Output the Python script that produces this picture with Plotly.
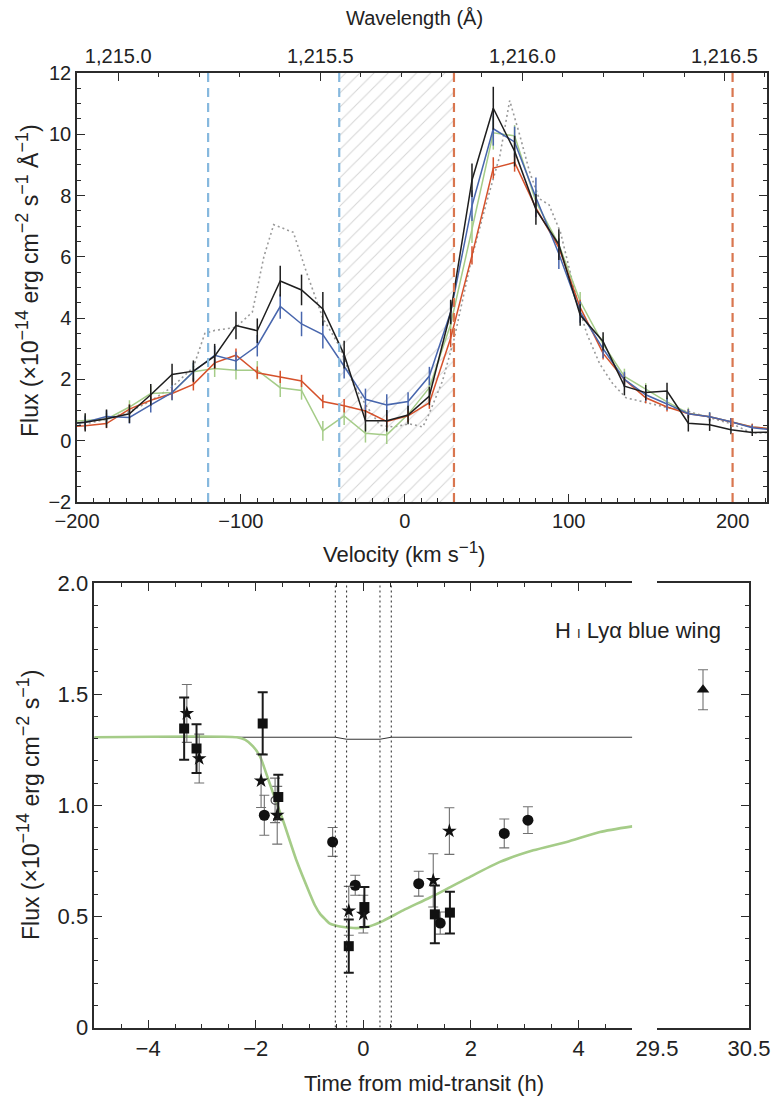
import plotly.graph_objects as go

# ---------------- Top panel data (velocity bins, km/s) ----------------
velocity = [-208, -195, -182, -168, -155, -142, -129, -116, -103, -90, -76, -63, -50, -37,
            -24, -11, 2, 15, 28, 41, 54, 67, 80, 94, 107, 121, 134, 147, 160, 173, 186, 199, 212, 225]
flux_black = [0.55, 0.6, 0.72, 0.88, 1.5, 2.16, 2.27, 2.76, 3.76, 3.59, 5.21, 4.92, 4.30, 2.81,
              0.65, 0.65, 0.84, 1.46, 4.2, 8.5, 10.85, 9.45, 7.55, 6.4, 4.1, 3.24, 1.78, 1.57, 1.62, 0.57, 0.52, 0.36, 0.27, 0.28]
err_black = [0.3, 0.3, 0.3, 0.3, 0.35, 0.35, 0.35, 0.4, 0.45, 0.4, 0.5, 0.5, 0.55, 0.45,
             0.35, 0.35, 0.3, 0.3, 0.4, 0.55, 0.7, 0.5, 0.5, 0.5, 0.35, 0.3, 0.3, 0.25, 0.27, 0.27, 0.2, 0.15, 0.12, 0.1]
flux_blue = [0.55, 0.6, 0.79, 0.76, 1.17, 1.57, 2.25, 2.79, 2.6, 3.1, 4.38, 3.81, 3.46, 2.43,
             1.35, 1.17, 1.28, 2.11, 4.2, 7.67, 10.18, 9.75, 7.94, 6.1, 4.2, 3.0, 2.0, 1.5, 1.2, 0.88, 0.78, 0.62, 0.42, 0.35]
err_blue = [0.2, 0.2, 0.2, 0.2, 0.25, 0.25, 0.3, 0.3, 0.3, 0.35, 0.4, 0.4, 0.45, 0.4,
            0.35, 0.35, 0.3, 0.3, 0.35, 0.5, 0.55, 0.5, 0.65, 0.5, 0.35, 0.3, 0.25, 0.2, 0.2, 0.15, 0.15, 0.12, 0.1, 0.1]
flux_red = [0.45, 0.49, 0.56, 1.03, 1.32, 1.54, 1.84, 2.54, 2.79, 2.22, 2.08, 1.95, 1.28, 1.14,
            0.97, 0.63, 0.81, 1.24, 3.35, 6.05, 8.9, 9.08, 7.6, 6.3, 4.35, 2.85, 2.0, 1.4, 1.1, 0.88, 0.78, 0.62, 0.45, 0.38]
err_red = [0.15, 0.15, 0.15, 0.15, 0.18, 0.2, 0.2, 0.2, 0.22, 0.2, 0.2, 0.2, 0.22, 0.22,
           0.2, 0.2, 0.2, 0.2, 0.3, 0.3, 0.35, 0.3, 0.3, 0.3, 0.25, 0.2, 0.2, 0.18, 0.15, 0.15, 0.12, 0.12, 0.1, 0.1]
flux_green = [0.62, 0.65, 0.7, 1.1, 1.54, 1.57, 2.25, 2.36, 2.3, 2.3, 1.73, 1.64, 0.32, 0.81,
              0.24, 0.19, 0.86, 1.73, 3.8, 6.9, 10.05, 9.95, 7.8, 6.4, 4.55, 3.15, 2.1, 1.68, 1.27, 0.9, 0.78, 0.62, 0.45, 0.38]
err_green = [0.2, 0.2, 0.2, 0.22, 0.25, 0.25, 0.28, 0.28, 0.3, 0.3, 0.3, 0.3, 0.32, 0.3,
             0.3, 0.3, 0.28, 0.3, 0.35, 0.45, 0.55, 0.35, 0.4, 0.35, 0.3, 0.25, 0.25, 0.2, 0.2, 0.18, 0.15, 0.12, 0.1, 0.1]

model_velocity = [-208, -195, -182, -168, -155, -142, -129, -122, -116, -103, -93, -86, -80, -68, -60, -50,
                  -40, -31, -23, -15, -7, 3, 11, 15, 23, 30, 41, 50, 58, 64, 70, 76, 82, 88, 95, 101,
                  105, 111, 119, 127, 135, 148, 160, 172, 186, 200, 212, 225]
model_flux = [0.5, 0.55, 0.7, 0.95, 1.3, 1.75, 2.4, 3.5, 3.6, 3.7, 4.2, 6.0, 7.05, 6.8, 5.5, 4.0,
              3.1, 1.8, 1.1, 0.5, 0.45, 0.55, 0.45, 0.9, 1.95, 3.3, 6.0, 7.8, 9.3, 11.1, 10.0, 8.8, 7.9, 7.7, 6.8, 5.5,
              4.6, 3.5, 2.5, 1.85, 1.4, 1.24, 1.08, 0.97, 0.76, 0.54, 0.25, 0.27]

hatch_range = [-40, 30]
blue_wing_lines = [-120, -40]
red_wing_lines = [30, 200]
wavelength_ticks = [1215.0, 1215.5, 1216.0, 1216.5]

# ---------------- Bottom panel data (time from mid-transit, h) ----------------
circ_t = [-1.84, -0.57, -0.15, 1.03, 1.43, 2.62, 3.06]
circ_f = [0.955, 0.835, 0.64, 0.647, 0.47, 0.873, 0.933]
circ_e = [0.09, 0.065, 0.045, 0.056, 0.05, 0.065, 0.06]
star_t = [-3.28, -3.05, -1.90, -1.60, -0.27, 0.0, 1.30, 1.60]
star_f = [1.413, 1.21, 1.11, 0.955, 0.525, 0.51, 0.662, 0.884]
star_e = [0.13, 0.11, 0.12, 0.13, 0.11, 0.085, 0.12, 0.105]
sq_t = [-3.33, -3.10, -1.87, -1.58, -0.27, 0.02, 1.33, 1.61]
sq_f = [1.345, 1.255, 1.368, 1.037, 0.366, 0.542, 0.509, 0.517]
sq_e = [0.14, 0.11, 0.14, 0.10, 0.12, 0.09, 0.13, 0.094]
open_t = [-1.64]
open_f = [1.022]
open_e = [0.1]
tri_t = [30.0]
tri_f = [1.52]
tri_e = [0.09]

ref_t = [-5.0, -0.52, -0.31, 0.31, 0.52, 5.0]
ref_f = [1.306, 1.306, 1.297, 1.297, 1.306, 1.306]
model_t = [-5.0, -2.35, -2.2, -2.05, -1.92, -1.8, -1.67, -1.49, -1.24, -0.99, -0.9, -0.8, -0.7, -0.62,
           -0.5, -0.37, -0.12, 0.12, 0.37, 0.74, 1.24, 1.92, 2.54, 3.16, 3.78, 4.40, 5.0]
model_f = [1.306, 1.306, 1.295, 1.265, 1.22, 1.14, 1.05, 0.93, 0.75, 0.60, 0.55, 0.51, 0.485, 0.467,
           0.458, 0.452, 0.447, 0.456, 0.48, 0.527, 0.585, 0.67, 0.745, 0.797, 0.835, 0.88, 0.905]
contact_times = [-0.52, -0.31, 0.31, 0.52]

# ---------------- styling ----------------
FONT = "Liberation Sans, Arial, Helvetica, sans-serif"
FS_TOP = 20
FS_BOT = 22
FS_YT = 23
AX = "#2b2b2b"
TXT = "#222222"
C_BLACK = "#1e1e1e"
C_BLUE = "#4866ad"
C_RED = "#d5512b"
C_GREEN = "#a5cc88"
C_GRAY = "#9a9a9a"
C_DBLUE = "#86b8de"
C_DRED = "#d9764f"

W, H = 780, 1100
VRANGE = [-200, 221]
LAM0, CLIGHT, VSHIFT = 1215.6701, 299792.458, 9.6
lam_range = [LAM0 * (1 + (v + VSHIFT) / CLIGHT) for v in VRANGE]

fig = go.Figure()

# hatched region
fig.add_trace(go.Scatter(
    x=[hatch_range[0], hatch_range[1], hatch_range[1], hatch_range[0], hatch_range[0]],
    y=[-2, -2, 12, 12, -2], mode="lines", line=dict(width=0), fill="toself",
    fillcolor="rgba(0,0,0,0)",
    fillpattern=dict(shape="/", fgcolor="#ababab", bgcolor="rgba(255,255,255,0)", size=10, solidity=0.1),
    hoverinfo="skip", showlegend=False, xaxis="x", yaxis="y"))

# model dotted
fig.add_trace(go.Scatter(x=model_velocity, y=model_flux, mode="lines",
                         line=dict(color=C_GRAY, width=1.6, dash="2px,3px"),
                         showlegend=False, xaxis="x", yaxis="y"))

for f, e, col in [(flux_green, err_green, C_GREEN), (flux_red, err_red, C_RED),
                  (flux_blue, err_blue, C_BLUE), (flux_black, err_black, C_BLACK)]:
    fig.add_trace(go.Scatter(
        x=velocity, y=f, mode="lines", line=dict(color=col, width=1.5),
        error_y=dict(type="data", array=e, visible=True, color=col, thickness=1.5, width=0),
        showlegend=False, xaxis="x", yaxis="y"))

# invisible trace for wavelength axis
fig.add_trace(go.Scatter(x=lam_range, y=[None, None], mode="markers", showlegend=False,
                         xaxis="x2", yaxis="y", hoverinfo="skip"))

# ---------------- bottom panel traces ----------------
fig.add_trace(go.Scatter(x=ref_t, y=ref_f, mode="lines", line=dict(color="#333333", width=1),
                         showlegend=False, xaxis="x3", yaxis="y3"))
fig.add_trace(go.Scatter(x=model_t, y=model_f, mode="lines",
                         line=dict(color=C_GREEN, width=2.6, shape="spline", smoothing=0.6),
                         showlegend=False, xaxis="x3", yaxis="y3"))

gray_err = dict(type="data", visible=True, color="#707070", thickness=1.1, width=5)
fig.add_trace(go.Scatter(x=open_t, y=open_f, mode="markers",
                         marker=dict(symbol="circle-open", size=8, color="#555555", line=dict(width=1.2)),
                         error_y=dict(gray_err, array=open_e), showlegend=False, xaxis="x3", yaxis="y3"))
fig.add_trace(go.Scatter(x=circ_t, y=circ_f, mode="markers",
                         marker=dict(symbol="circle", size=11, color="#111111"),
                         error_y=dict(gray_err, array=circ_e), showlegend=False, xaxis="x3", yaxis="y3"))
fig.add_trace(go.Scatter(x=star_t, y=star_f, mode="markers",
                         marker=dict(symbol="star", size=11, color="#111111"),
                         error_y=dict(gray_err, array=star_e), showlegend=False, xaxis="x3", yaxis="y3"))
fig.add_trace(go.Scatter(x=sq_t, y=sq_f, mode="markers",
                         marker=dict(symbol="square", size=10, color="#111111"),
                         error_y=dict(type="data", array=sq_e, visible=True, color="#1a1a1a", thickness=2, width=5),
                         showlegend=False, xaxis="x3", yaxis="y3"))
fig.add_trace(go.Scatter(x=tri_t, y=tri_f, mode="markers",
                         marker=dict(symbol="triangle-up", size=11, color="#111111"),
                         error_y=dict(gray_err, array=tri_e), showlegend=False, xaxis="x4", yaxis="y4"))

# ---------------- shapes ----------------
shapes = []
for v in blue_wing_lines:
    shapes.append(dict(type="line", xref="x", yref="y", x0=v, x1=v, y0=-2, y1=12,
                       line=dict(color=C_DBLUE, width=2.2, dash="9px,6px"), layer="above"))
for v in red_wing_lines:
    shapes.append(dict(type="line", xref="x", yref="y", x0=v, x1=v, y0=-2, y1=12,
                       line=dict(color=C_DRED, width=2.2, dash="9px,6px"), layer="above"))
for t in contact_times:
    shapes.append(dict(type="line", xref="x3", yref="y3", x0=t, x1=t, y0=0, y1=2,
                       line=dict(color="#222222", width=1, dash="2px,3px"), layer="above"))


def px_x(p):
    return p / W


def px_y(p):
    return 1 - p / H


def tf(size):
    return dict(family=FONT, size=size, color=TXT)


def sup(s, size):
    return "<sup><span style='font-size:%dpx'>%s</span></sup>" % (size, s)


def axis_common(size):
    return dict(showline=True, linecolor=AX, linewidth=1.5, ticks="inside", tickcolor=AX,
                tickwidth=1.3, showgrid=False, zeroline=False, tickfont=tf(size), automargin=False)


layout = dict(
    width=W, height=H, autosize=False, margin=dict(l=0, r=0, t=0, b=0, autoexpand=False),
    paper_bgcolor="white", plot_bgcolor="white", showlegend=False,
    separators=".,",
    font=dict(family=FONT, size=FS_TOP, color=TXT),
    xaxis=dict(axis_common(FS_TOP), domain=[px_x(77), px_x(767)], anchor="y", range=VRANGE,
               tickvals=[-200, -100, 0, 100, 200], ticklen=8,
               minor=dict(dtick=10, tick0=0, ticks="inside", ticklen=4, tickcolor=AX)),
    xaxis2=dict(axis_common(FS_TOP), domain=[px_x(77), px_x(767)], anchor="y", overlaying="x", side="top",
                range=lam_range, tickvals=wavelength_ticks, tickformat=",.1f", ticklen=8,
                minor=dict(dtick=0.1, tick0=1215.0, ticks="inside", ticklen=4, tickcolor=AX)),
    yaxis=dict(axis_common(FS_TOP), domain=[px_y(502), px_y(73)], anchor="x", range=[-2, 12],
               tickvals=[-2, 0, 2, 4, 6, 8, 10, 12], ticklen=8, mirror="ticks",
               minor=dict(dtick=0.5, tick0=0, ticks="inside", ticklen=4, tickcolor=AX)),
    xaxis3=dict(axis_common(FS_BOT), domain=[px_x(94.3), px_x(632.3)], anchor="y3", range=[-5, 5],
                tickvals=[-4, -2, 0, 2, 4], ticklen=8, mirror="ticks",
                minor=dict(dtick=0.5, tick0=0, ticks="inside", ticklen=4, tickcolor=AX)),
    yaxis3=dict(axis_common(FS_BOT), domain=[px_y(1027.5), px_y(583)], anchor="x3", range=[0, 2],
                tickvals=[0, 0.5, 1.0, 1.5, 2.0], ticktext=["0", "0.5", "1.0", "1.5", "2.0"], ticklen=8,
                minor=dict(dtick=0.1, tick0=0, ticks="inside", ticklen=4, tickcolor=AX)),
    xaxis4=dict(axis_common(FS_BOT), domain=[px_x(657), px_x(749)], anchor="y4", range=[29.5, 30.5],
                tickvals=[29.5, 30.5], ticktext=["29.5", "30.5"], ticklen=8, mirror="ticks"),
    yaxis4=dict(axis_common(FS_BOT), domain=[px_y(1027.5), px_y(583)], anchor="x4", side="right",
                range=[0, 2], tickvals=[0, 0.5, 1.0, 1.5, 2.0], showticklabels=False, ticklen=8,
                minor=dict(dtick=0.1, tick0=0, ticks="inside", ticklen=4, tickcolor=AX)),
    shapes=shapes,
)
fig.update_layout(layout)

SUP = 18
annots = [
    dict(text="Wavelength (Å)", x=px_x(414), y=px_y(18), xref="paper", yref="paper",
         xanchor="center", yanchor="middle", showarrow=False, font=tf(FS_TOP)),
    dict(text="Velocity (km s" + sup("−1", 17) + ")", x=px_x(404), y=px_y(552), xref="paper", yref="paper",
         xanchor="center", yanchor="middle", showarrow=False, font=tf(FS_BOT)),
    dict(text="Flux (×10" + sup("−14", SUP) + " erg cm" + sup("−2", SUP) + " s" + sup("−1", SUP)
         + " Å" + sup("−1", SUP) + ")",
         x=px_x(28), y=px_y(281), xref="paper", yref="paper", textangle=-90,
         xanchor="center", yanchor="middle", showarrow=False, font=tf(FS_YT)),
    dict(text="Flux (×10" + sup("−14", SUP) + " erg cm" + sup("−2", SUP) + " s" + sup("−1", SUP) + ")",
         x=px_x(28), y=px_y(805), xref="paper", yref="paper", textangle=-90,
         xanchor="center", yanchor="middle", showarrow=False, font=tf(FS_YT)),
    dict(text="Time from mid-transit (h)", x=px_x(424), y=px_y(1083), xref="paper", yref="paper",
         xanchor="center", yanchor="middle", showarrow=False, font=tf(FS_BOT)),
    dict(text="H <span style='font-size:13px'>I</span> Lyα blue wing", x=px_x(723), y=px_y(630),
         xref="paper", yref="paper", xanchor="right", yanchor="middle", showarrow=False, font=tf(FS_BOT)),
]
fig.update_layout(annotations=annots)

fig.write_html("out.html")
